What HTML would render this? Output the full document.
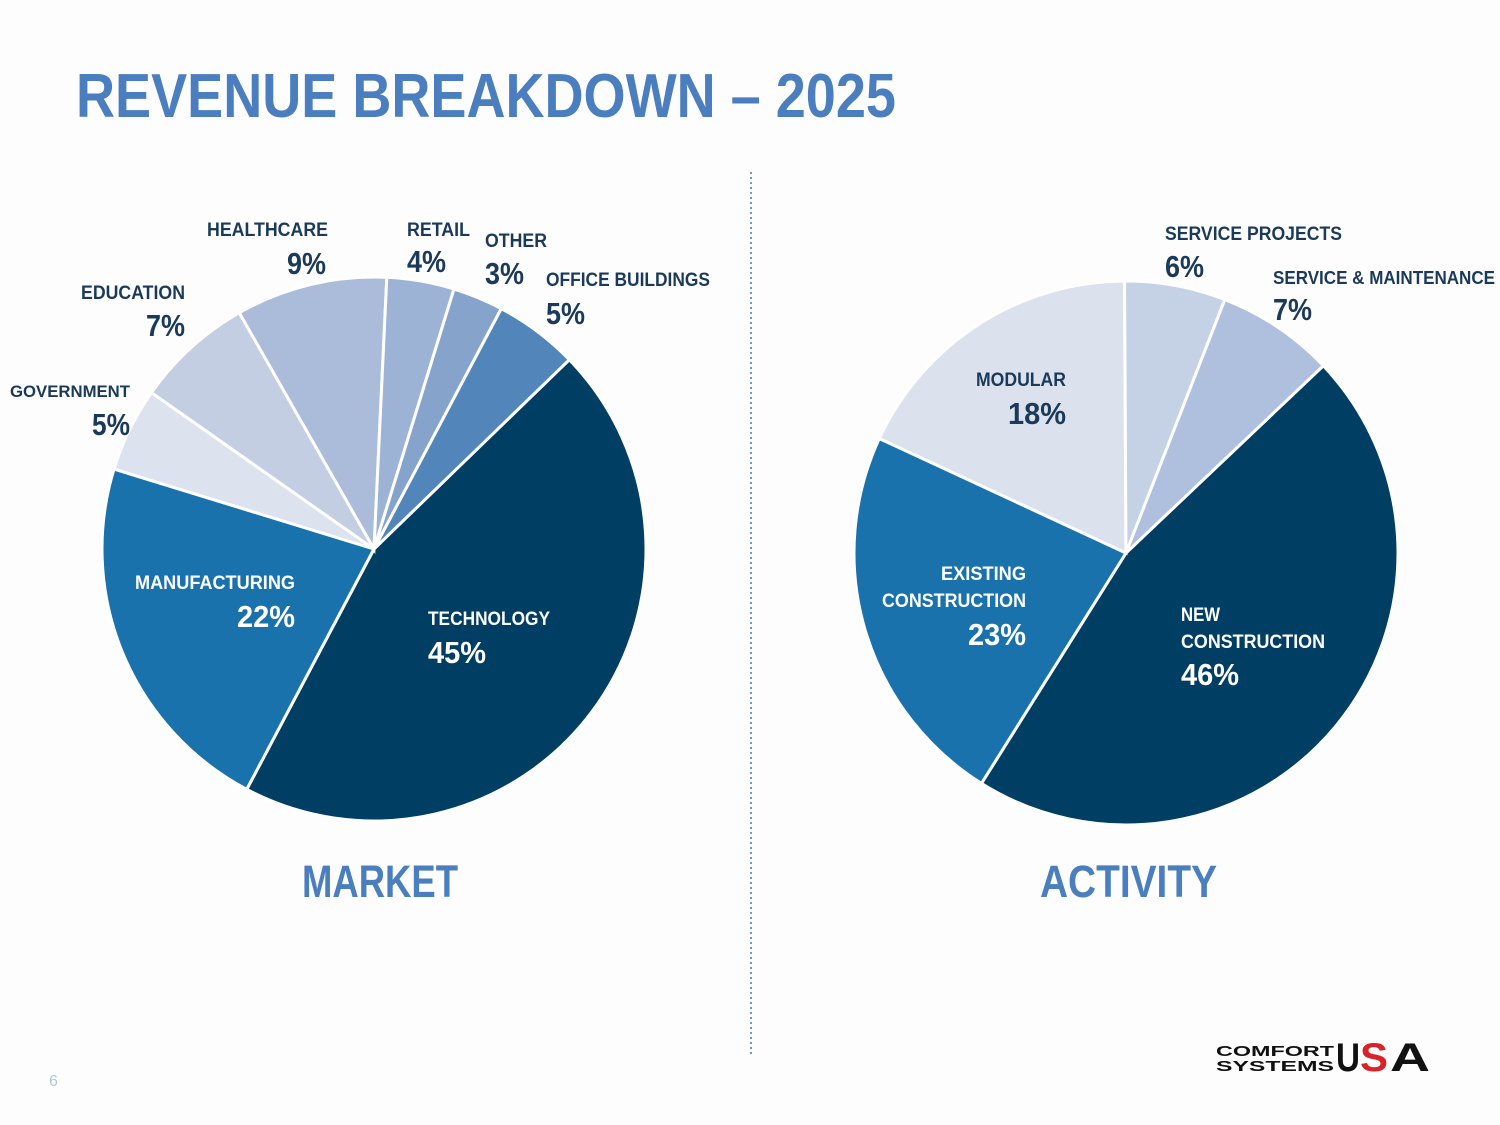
<!DOCTYPE html>
<html><head><meta charset="utf-8">
<style>
html,body{margin:0;padding:0;background:#fdfdfd;}
svg{display:block;font-family:"Liberation Sans",sans-serif;font-weight:bold;}
</style></head>
<body>
<svg id="chart" width="1500" height="1125" viewBox="0 0 1500 1125">
<rect x="0" y="0" width="1500" height="1125" fill="#fdfdfd"/>
<text x="76" y="117" font-size="62" fill="#4a7ebe" textLength="820" lengthAdjust="spacingAndGlyphs">REVENUE BREAKDOWN – 2025</text>
<line x1="751" y1="172" x2="751" y2="1057" stroke="#6a9cc0" stroke-width="2" stroke-dasharray="2,3"/>
<g id="pies"></g>
<g id="labels"></g>
<text x="302" y="897" font-size="45" fill="#4a7ebe" textLength="156" lengthAdjust="spacingAndGlyphs">MARKET</text>
<text x="1040" y="897" font-size="45" fill="#4a7ebe" textLength="177" lengthAdjust="spacingAndGlyphs">ACTIVITY</text>
<text x="49" y="1086" font-size="16" font-weight="normal" fill="#b8c4d4">6</text>
<g>
<text x="1216" y="1056" font-size="15" font-family="Liberation Sans" fill="#111" textLength="118" lengthAdjust="spacingAndGlyphs">COMFORT</text>
<text x="1216" y="1071" font-size="15" font-family="Liberation Sans" fill="#111" textLength="118" lengthAdjust="spacingAndGlyphs">SYSTEMS</text>
<text x="1336" y="1071" font-size="40" fill="#111" textLength="24" lengthAdjust="spacingAndGlyphs">U</text>
<text x="1360" y="1071" font-size="40" fill="#d8232a" textLength="28" lengthAdjust="spacingAndGlyphs">S</text>
<text x="1390" y="1071" font-size="40" fill="#111" textLength="40" lengthAdjust="spacingAndGlyphs">A</text>
</g>
</svg>
<script>
const marketCategories = ["Technology","Manufacturing","Government","Education","Healthcare","Retail","Other","Office Buildings"];
const marketValues = [45,22,5,7,9,4,3,5];
const marketColors = ["#003e63","#1a72ad","#dce2ee","#c3cee3","#abbcdb","#9db3d6","#86a3cc","#5285ba"];
const activityCategories = ["New Construction","Existing Construction","Modular","Service Projects","Service & Maintenance"];
const activityValues = [46,23,18,6,7];
const activityColors = ["#003e63","#1a72ad","#dbe2ee","#c5d1e5","#aec0dd"];

const NS = "http://www.w3.org/2000/svg";
function drawPie(cx, cy, r, startDeg, cats, vals, colors, prefix){
  const g = document.getElementById('pies');
  const total = vals.reduce((a,b)=>a+b,0);
  let a = startDeg;
  vals.forEach((v,i)=>{
    const sweep = v/total*360;
    const a0 = a*Math.PI/180, a1 = (a+sweep)*Math.PI/180;
    const x0 = cx + r*Math.sin(a0), y0 = cy - r*Math.cos(a0);
    const x1 = cx + r*Math.sin(a1), y1 = cy - r*Math.cos(a1);
    const large = sweep > 180 ? 1 : 0;
    const p = document.createElementNS(NS,'path');
    p.setAttribute('d', `M${cx},${cy} L${x0},${y0} A${r},${r} 0 ${large} 1 ${x1},${y1} Z`);
    p.setAttribute('fill', colors[i]);
    p.setAttribute('stroke', '#ffffff');
    p.setAttribute('stroke-width', '3');
    
    
    g.appendChild(p);
    a += sweep;
  });
}
drawPie(374, 549, 272, 45.9, marketCategories, marketValues, marketColors, 'market');
drawPie(1126, 553, 272, 46.5, activityCategories, activityValues, activityColors, 'activity');

// labels: [text, x, y, size, width, color, anchor]
const labelRows = [
 ["HEALTHCARE",207,236,19,121,"#1b3a5a","start"],["9%",326,274,31,39,"#1b3a5a","end"],
 ["RETAIL",407,236,19,63,"#1b3a5a","start"],["4%",407,272,31,39,"#1b3a5a","start"],
 ["OTHER",485,247,19,62,"#1b3a5a","start"],["3%",485,284,31,39,"#1b3a5a","start"],
 ["OFFICE BUILDINGS",546,286,19,164,"#1b3a5a","start"],["5%",546,324,31,39,"#1b3a5a","start"],
 ["EDUCATION",81,299,19,104,"#1b3a5a","start"],["7%",185,336,31,39,"#1b3a5a","end"],
 ["GOVERNMENT",10,397,17,120,"#1b3a5a","start"],["5%",130,435,31,38,"#1b3a5a","end"],
 ["MANUFACTURING",135,589,19,160,"#ffffff","start"],["22%",295,627,31,58,"#ffffff","end"],
 ["TECHNOLOGY",428,625,19,122,"#ffffff","start"],["45%",428,663,31,58,"#ffffff","start"],
 ["SERVICE PROJECTS",1165,240,19,177,"#1b3a5a","start"],["6%",1165,277,31,39,"#1b3a5a","start"],
 ["SERVICE & MAINTENANCE",1273,284,18,222,"#1b3a5a","start"],["7%",1273,320,31,39,"#1b3a5a","start"],
 ["MODULAR",976,386,19,90,"#1b3a5a","start"],["18%",1066,424,31,58,"#1b3a5a","end"],
 ["EXISTING",1026,580,19,85,"#ffffff","end"],["CONSTRUCTION",1026,607,19,144,"#ffffff","end"],["23%",1026,645,31,58,"#ffffff","end"],
 ["NEW",1181,621,19,39,"#ffffff","start"],["CONSTRUCTION",1181,648,19,144,"#ffffff","start"],["46%",1181,685,31,58,"#ffffff","start"]
];
const lg = document.getElementById('labels');
labelRows.forEach(row=>{
  const t = document.createElementNS(NS,'text');
  t.textContent = row[0];
  t.setAttribute('x', row[1]); t.setAttribute('y', row[2]);
  t.setAttribute('font-size', row[3]);
  t.setAttribute('textLength', row[4]);
  t.setAttribute('lengthAdjust', 'spacingAndGlyphs');
  t.setAttribute('fill', row[5]);
  t.setAttribute('text-anchor', row[6]);
  
  
  lg.appendChild(t);
});
</script>
</body></html>
